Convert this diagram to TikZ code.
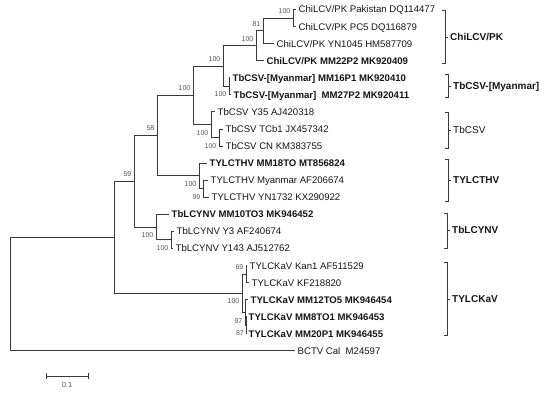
\documentclass[tikz,border=0pt]{standalone}
\usepackage{fontspec}
\setmainfont{Liberation Sans}
\definecolor{treegray}{HTML}{3A3A3A}
\definecolor{bsgray}{HTML}{555555}
\definecolor{txt}{HTML}{151515}
\begin{document}
\begin{tikzpicture}[x=1pt,y=-1pt,
  edge/.style={draw=treegray, line width=0.9pt},
  leaf/.style={anchor=west, inner sep=0pt, xshift=2.5pt, text height=6.9pt, text depth=0pt,
    font=\fontsize{9.6}{11}\selectfont, text=txt},
  bleaf/.style={leaf, font=\fontsize{9.6}{11}\selectfont\bfseries},
  bs/.style={inner sep=0pt, anchor=base east, xshift=-2.5pt, font=\fontsize{7}{8}\selectfont, text=bsgray},
  bsa/.style={bs, yshift=4.8pt},
  bsb/.style={bs, yshift=-10.5pt},
  brk/.style={draw=treegray, line width=0.8pt},
  clab/.style={anchor=west, inner sep=0pt, text height=7.3pt, text depth=0pt,
    font=\fontsize{10}{12}\selectfont\bfseries, text=txt},
  clabn/.style={clab, font=\fontsize{10}{12}\selectfont}]
\useasboundingbox (0,0) rectangle (550,392);

% internal nodes
\coordinate (R) at (10,294.1);
\coordinate (L) at (114,237.4);
\coordinate (N59) at (134,181.4);
\coordinate (N58) at (157,135.7);
\coordinate (B) at (193,95.4);
\coordinate (E) at (223,66.0);
\coordinate (H) at (256,45.8);
\coordinate (G) at (263,30.8);
\coordinate (F) at (293,18.0);
\coordinate (I) at (229,86.3);
\coordinate (C) at (211,124.7);
\coordinate (D) at (219,137.5);
\coordinate (A) at (199,175.9);
\coordinate (Bp) at (203,188.7);
\coordinate (J) at (156,227.2);
\coordinate (K) at (171,239.9);
\coordinate (M) at (242,293.3);
\coordinate (N) at (246,274.1);
\coordinate (P) at (245,312.5);
\coordinate (Q) at (246.5,325.3);

% tips
\coordinate (t1) at (296,9.5);
\coordinate (t2) at (296,26.6);
\coordinate (t3) at (274,43.6);
\coordinate (t4) at (264,60.7);
\coordinate (t5) at (230,77.8);
\coordinate (t6) at (231,94.9);
\coordinate (t7) at (215,111.9);
\coordinate (t8) at (223,129.0);
\coordinate (t9) at (223,146.1);
\coordinate (t10) at (207,163.1);
\coordinate (t11) at (208,180.2);
\coordinate (t12) at (209,197.3);
\coordinate (t13) at (169,214.3);
\coordinate (t14) at (174,231.4);
\coordinate (t15) at (173,248.5);
\coordinate (t16) at (247,265.6);
\coordinate (t17) at (249,282.6);
\coordinate (t18) at (248,299.7);
\coordinate (t19) at (246,316.8);
\coordinate (t20) at (246,333.8);
\coordinate (t21) at (295,350.9);

% branches
\draw[edge] (R) |- (L);  \draw[edge] (R) |- (t21);
\draw[edge] (L) |- (N59); \draw[edge] (L) |- (M);
\draw[edge] (N59) |- (N58); \draw[edge] (N59) |- (J);
\draw[edge] (N58) |- (B); \draw[edge] (N58) |- (A);
\draw[edge] (B) |- (E); \draw[edge] (B) |- (C);
\draw[edge] (E) |- (H); \draw[edge] (E) |- (I);
\draw[edge] (H) |- (G); \draw[edge] (H) |- (t4);
\draw[edge] (G) |- (F); \draw[edge] (G) |- (t3);
\draw[edge] (F) |- (t1); \draw[edge] (F) |- (t2);
\draw[edge] (I) |- (t5); \draw[edge] (I) |- (t6);
\draw[edge] (C) |- (t7); \draw[edge] (C) |- (D);
\draw[edge] (D) |- (t8); \draw[edge] (D) |- (t9);
\draw[edge] (A) |- (t10); \draw[edge] (A) |- (Bp);
\draw[edge] (Bp) |- (t11); \draw[edge] (Bp) |- (t12);
\draw[edge] (J) |- (t13); \draw[edge] (J) |- (K);
\draw[edge] (K) |- (t14); \draw[edge] (K) |- (t15);
\draw[edge] (M) |- (N); \draw[edge] (M) |- (P);
\draw[edge] (N) |- (t16); \draw[edge] (N) |- (t17);
\draw[edge] (P) |- (t18); \draw[edge] (P) |- (Q);
\draw[edge] (Q) |- (t19); \draw[edge] (Q) |- (t20);

% leaf labels
\node[leaf] (n1) at (t1) {ChiLCV/PK Pakistan DQ114477};
\node[leaf] (n2) at (t2) {ChiLCV/PK PC5 DQ116879};
\node[leaf] (n3) at (t3) {ChiLCV/PK YN1045 HM587709};
\node[bleaf] (n4) at (t4) {ChiLCV/PK MM22P2 MK920409};
\node[bleaf] (n5) at (t5) {TbCSV-[Myanmar] MM16P1 MK920410};
\node[bleaf] (n6) at (t6) {TbCSV-[Myanmar]\ \ MM27P2 MK920411};
\node[leaf] (n7) at (t7) {TbCSV Y35 AJ420318};
\node[leaf] (n8) at (t8) {TbCSV TCb1 JX457342};
\node[leaf] (n9) at (t9) {TbCSV CN KM383755};
\node[bleaf] (n10) at (t10) {TYLCTHV MM18TO MT856824};
\node[leaf] (n11) at (t11) {TYLCTHV Myanmar AF206674};
\node[leaf] (n12) at (t12) {TYLCTHV YN1732 KX290922};
\node[bleaf] (n13) at (t13) {TbLCYNV MM10TO3 MK946452};
\node[leaf] (n14) at (t14) {TbLCYNV Y3 AF240674};
\node[leaf] (n15) at (t15) {TbLCYNV Y143 AJ512762};
\node[leaf] (n16) at (t16) {TYLCKaV Kan1 AF511529};
\node[leaf] (n17) at (t17) {TYLCKaV KF218820};
\node[bleaf] (n18) at (t18) {TYLCKaV MM12TO5 MK946454};
\node[bleaf] (n19) at (t19) {TYLCKaV MM8TO1 MK946453};
\node[bleaf] (n20) at (t20) {TYLCKaV MM20P1 MK946455};
\node[leaf] (n21) at (t21) {BCTV Cal\ \ M24597};

% bootstrap values
\node[bsa] (bF) at (F) {100};
\node[bsa] (bG) at (G) {81};
\node[bsa] (bH) at (H) {100};
\node[bsa] (bE) at (E) {100};
\node[bsb] (bI) at (I) {100};
\node[bsa] (bB) at (B) {100};
\node[bsb] (bC) at (C) {100};
\node[bsb] (bD) at (D) {100};
\node[bsa] (b58) at (N58) {58};
\node[bsb] (bA) at (A) {100};
\node[bsb] (bBp) at (Bp) {99};
\node[bsa] (b59) at (N59) {59};
\node[bsb] (bJ) at (J) {100};
\node[bsb] (bK) at (K) {100};
\node[bsb] (bM) at (M) {100};
\node[bsa] (bN) at (N) {69};
\node[bsb] (bP) at (P) {97};
\node[bsb] (bQ) at (Q) {87};

% clade brackets
\draw[brk] (442,10) -- (445,10) -- (445,63) -- (442,63);
\draw[brk] (445,37) -- (448,37);
\node[clab] (c1) at (450,37) {ChiLCV/PK};
\draw[brk] (445,74) -- (448,74) -- (448,97) -- (445,97);
\draw[brk] (448,86) -- (451,86);
\node[clab] (c2) at (453,86) {TbCSV-[Myanmar]};
\draw[brk] (445,112) -- (448,112) -- (448,148) -- (445,148);
\draw[brk] (448,130) -- (451,130);
\node[clabn] (c3) at (453,130) {TbCSV};
\draw[brk] (445,159) -- (448,159) -- (448,201) -- (445,201);
\draw[brk] (448,180) -- (451,180);
\node[clab] (c4) at (453,180) {TYLCTHV};
\draw[brk] (444,213) -- (447,213) -- (447,248) -- (444,248);
\draw[brk] (447,230) -- (450,230);
\node[clab] (c5) at (452,230) {TbLCYNV};
\draw[brk] (444,262) -- (447,262) -- (447,335) -- (444,335);
\draw[brk] (447,299) -- (450,299);
\node[clab] (c6) at (452,299) {TYLCKaV};

% scale bar
\coordinate (s1) at (46,376);
\coordinate (s2) at (88,376);
\draw[edge] (s1) -- (s2);
\draw[edge] ([yshift=3pt]s1) -- ([yshift=-3pt]s1);
\draw[edge] ([yshift=3pt]s2) -- ([yshift=-3pt]s2);
\node[inner sep=0pt, font=\fontsize{7.5}{9}\selectfont, text=bsgray] (sl) at (67,385) {0.1};
\end{tikzpicture}
\end{document}
